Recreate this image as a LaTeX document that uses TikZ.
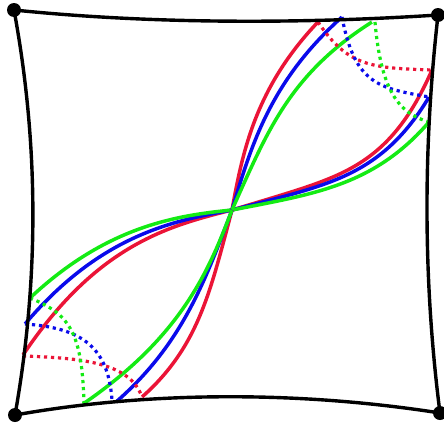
\documentclass[tikz,border=0pt]{standalone}
\usepackage{tikz}
\definecolor{geored}{RGB}{235,20,55}
\definecolor{geoblue}{RGB}{10,10,235}
\definecolor{geogreen}{RGB}{20,235,20}

\tikzset{
    edge/.style={line width=3.4pt, black},
    geo/.style={line width=3.5pt, smooth, samples=40, domain=0.001:1},
    mirror/.style={line width=3.2pt, dash pattern=on 3.2pt off 3.8pt},
    vertex/.style={circle, fill=black, inner sep=0pt, minimum size=14pt}
}

\begin{document}
\begin{tikzpicture}[x=1pt, y=-1pt]
    \useasboundingbox (0,0) rectangle (444,431);

    % corners of the curved square
    \coordinate (tl) at (14,10);
    \coordinate (tr) at (438,15);
    \coordinate (bl) at (15,415);
    \coordinate (br) at (440,413);
    \coordinate (mid) at (232,210);

    % shallow curves, right halves
    \draw[geo, geored] plot ({232+200*\x},{210-140*(0.43*\x+0.57*\x^5)});
    \draw[geo, geoblue] plot ({232+197*\x},{210-113*(0.45*\x+0.55*\x^4.5)});
    \draw[geo, geogreen] plot ({232+197*\x},{210-88*(0.43*\x+0.57*\x^3.8)});
    % shallow curves, left halves
    \draw[geo, geored] plot ({232-209*\x},{210+145*(0.36*\x+0.64*\x^2.8)});
    \draw[geo, geoblue] plot ({232-207*\x},{210+114*(0.33*\x+0.67*\x^2.7)});
    \draw[geo, geogreen] plot ({232-202*\x},{210+88*(0.23*\x+0.77*\x^2.5)});

    % steep curves, upper halves
    \draw[geo, geored] plot ({232+86*(0.4*\x+0.6*\x^2.8)},{210-188*\x});
    \draw[geo, geoblue] plot ({232+110*(0.52*\x+0.48*\x^3)},{210-193*\x});
    \draw[geo, geogreen] plot ({232+140*(0.6*\x+0.4*\x^3.8)},{210-188*\x});
    % steep curves, lower halves
    \draw[geo, geored] plot ({232-90*(0.55*\x+0.45*\x^4)},{210+187*\x});
    \draw[geo, geoblue] plot ({232-116*(0.63*\x+0.37*\x^3.4)},{210+192*\x});
    \draw[geo, geogreen] plot ({232-149*(0.5*\x+0.5*\x^2.8)},{210+194*\x});

    % dotted arcs, top right
    \draw[mirror, geored] (318,22) .. controls (348,67) and (372,68) .. (432,70);
    \draw[mirror, geoblue] (342,17) .. controls (355,85) and (379,88) .. (429,97);
    \draw[mirror, geogreen] (375,22) .. controls (381,90) and (398,113) .. (429,122);

    % dotted arcs, bottom left
    \draw[mirror, geored] (23,356) .. controls (80,358) and (130,362) .. (142,397);
    \draw[mirror, geoblue] (25,324) .. controls (80,328) and (108,345) .. (112,400);
    \draw[mirror, geogreen] (30,298) .. controls (70,314) and (82,333) .. (84,403);

    % sides
    \draw[edge] (tl) .. controls (150,24) and (300,24) .. (tr);
    \draw[edge] (tr) .. controls (423,148) and (423,280) .. (br);
    \draw[edge] (bl) .. controls (150,391) and (300,391) .. (br);
    \draw[edge] (tl) .. controls (39,145) and (39,280) .. (bl);

    \node[vertex] (dtl) at (tl) {};
    \node[vertex] (dtr) at (tr) {};
    \node[vertex] (dbl) at (bl) {};
    \node[vertex] (dbr) at (br) {};
\end{tikzpicture}
\end{document}
